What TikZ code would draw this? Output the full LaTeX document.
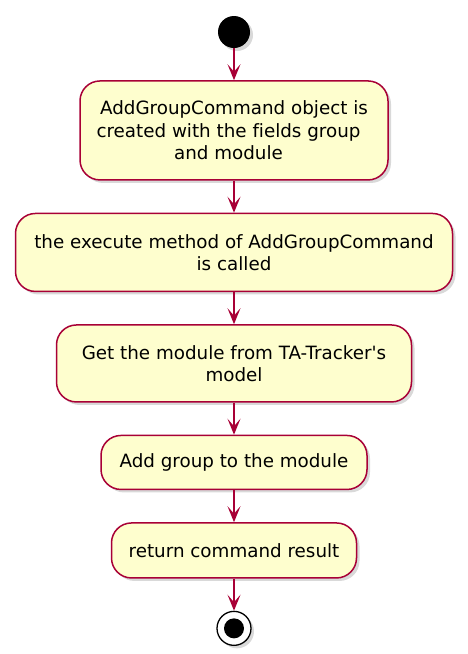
\documentclass[tikz,border=0pt]{standalone}
\usepackage{fontspec}
\setmainfont{DejaVu Sans}[Ligatures=NoCommon]
\usepackage{tikz}
\definecolor{umlred}{RGB}{168, 0, 54}
\definecolor{umlyellow}{RGB}{254, 254, 206}
\usetikzlibrary{
  arrows.meta,
  positioning,
  shadows,
}
\tikzset{
  >={Stealth[length=16pt,width=13pt,inset=7.5pt]},
  act/.style={draw=umlred,line width=1.5pt,rectangle,rounded corners=20pt,fill=umlyellow,
    align=center,inner sep=0pt,font=\fontsize{18.3}{22.5}\selectfont,
    drop shadow={opacity=0.3,shadow xshift=3pt,shadow yshift=-3pt}},
  flow/.style={->,draw=umlred,line width=1.5pt},
}

\begin{document}
\begin{tikzpicture}[node distance=32pt and 0pt]
        \useasboundingbox (0,0) rectangle (468pt,-654pt);

        \node[circle,fill=black,minimum size=32pt,inner sep=0pt,
          drop shadow={opacity=0.3,shadow xshift=3pt,shadow yshift=-3pt}] (s0) at (234pt,-32pt) {};
        \node[act,minimum width=308pt,minimum height=99pt] (a1) [below=of s0] {AddGroupCommand object is\\created with the fields group\hspace{11pt}\mbox{}\\and module\hspace{11pt}\mbox{}};
        \node[act,minimum width=437pt,minimum height=78pt] (a2) [below=of a1] {the execute method of AddGroupCommand\\is called};
        \node[act,minimum width=355pt,minimum height=77pt] (a3) [below=of a2] {Get the module from TA-Tracker\textquotesingle s\\model};
        \node[act,minimum width=266pt,minimum height=54pt] (a4) [below=of a3] {Add group to the module};
        \node[act,minimum width=245pt,minimum height=55pt] (a5) [below=of a4] {return command result};
        \node[circle,draw=black,fill=white,line width=1.3pt,minimum size=34pt,inner sep=0pt,
          drop shadow={opacity=0.3,shadow xshift=3pt,shadow yshift=-3pt}] (e0) [below=of a5] {};
        \node[circle,fill=black,minimum size=20pt,inner sep=0pt] (e1) at (e0.center) {};

        \draw[flow] (s0.south) -- (a1.north);
        \draw[flow] (a1.south) -- (a2.north);
        \draw[flow] (a2.south) -- (a3.north);
        \draw[flow] (a3.south) -- (a4.north);
        \draw[flow] (a4.south) -- (a5.north);
        \draw[flow] (a5.south) -- (e0.north);

\end{tikzpicture}
\end{document}
